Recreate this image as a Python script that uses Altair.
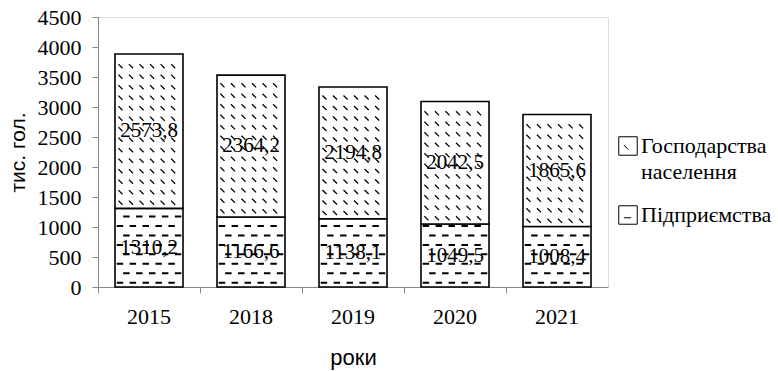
import altair as alt
import pandas as pd

# ---- data ----
years = ["2015", "2018", "2019", "2020", "2021"]
enterprises = [1310.2, 1166.6, 1138.1, 1049.5, 1008.4]      # Підприємства
households = [2573.8, 2364.2, 2194.8, 2042.5, 1865.6]       # Господарства населення
series_names = ["Господарства населення", "Підприємства"]
y_ticks = [0, 500, 1000, 1500, 2000, 2500, 3000, 3500, 4000, 4500]

rows = []
for i, yr in enumerate(years):
    rows.append({"year": yr, "series": series_names[1], "ord": 0, "value": enterprises[i]})
    rows.append({"year": yr, "series": series_names[0], "ord": 1, "value": households[i]})
df = pd.DataFrame(rows)

SERIF = "Liberation Serif"
SANS = "Liberation Sans"

# pattern strokes as custom symbol paths (unit box -1..1, scaled to the bar width)
def dash_row(start):
    parts = []
    x = start
    while x < 0.97:
        x2 = min(x + 0.19, 0.97)
        if x2 - x > 0.04:
            parts.append(f"M{x:.3f},0H{x2:.3f}")
        x += 0.38
    return " ".join(parts)

def diag_row():
    parts = []
    x = -0.9
    while x < 0.85:
        parts.append(f"M{x:.3f},-0.06L{x + 0.12:.3f},0.06")
        x += 0.31
    return " ".join(parts)

DASH_A = dash_row(-0.95)
DASH_B = dash_row(-0.76)
DIAG = diag_row()
ICON_G = "M-1,-1H1V1H-1Z M-0.45,-0.1L0.05,0.4"
ICON_P = "M-1,-1H1V1H-1Z M-0.45,0.3H0.35"

BAR_PX = 68
ROW_SIZE = BAR_PX * BAR_PX

x_enc = alt.X(
    "year:N",
    sort=years,
    scale=alt.Scale(paddingInner=0, paddingOuter=0),
    axis=alt.Axis(
        title="роки", labelAngle=0, bandPosition=0, tickSize=6,
        labelFont=SERIF, labelFontSize=22, labelColor="black", labelPadding=13,
        titleFont=SANS, titleFontSize=22, titleFontWeight="normal",
        titleColor="black", titlePadding=20,
    ),
)
y_scale = alt.Scale(domain=[0, 4500], nice=False)
y_axis = alt.Axis(
    title="тис. гол.", values=y_ticks, format="d", labelOverlap=False,
    grid=False, tickSize=6,
    labelFont=SERIF, labelFontSize=22, labelColor="black", labelPadding=11,
    titleFont=SANS, titleFontSize=21, titleFontWeight="normal",
    titleColor="black", titlePadding=9,
)

def y_enc(field):
    return alt.Y(field, type="quantitative", scale=y_scale, axis=y_axis)

base = alt.Chart(df).transform_stack(
    stack="value", groupby=["year"], as_=["y0", "y1"],
    sort=[alt.SortField("ord", order="ascending")],
)

# legend layer, hidden behind the white bars
legend_layer = base.transform_calculate(mid="(datum.y0 + datum.y1) / 2").mark_point(
    filled=False, color="black", strokeWidth=1, size=340, opacity=1
).encode(
    x=x_enc,
    y=y_enc("mid"),
    shape=alt.Shape(
        "series:N",
        scale=alt.Scale(domain=series_names, range=[ICON_G, ICON_P]),
        legend=alt.Legend(
            title=None, orient="none", legendX=519, legendY=118, padding=0,
            symbolSize=340, symbolStrokeColor="black", symbolStrokeWidth=1,
            symbolOpacity=1,
            labelFont=SERIF, labelFontSize=22, labelColor="black",
            labelExpr="split(datum.label, ' ')", labelOffset=2,
            labelLimit=300, rowPadding=20,
        ),
    ),
)

bars = base.mark_bar(
    width=alt.RelativeBandSize(BAR_PX / 102), fill="white", stroke="black", strokeWidth=1.6
).encode(x=x_enc, y=y_enc("y0"), y2="y1:Q")

diag = base.transform_filter("datum.ord == 1").transform_calculate(
    r="sequence(datum.y0 + 95, datum.y1 - 40, 175)"
).transform_flatten(["r"]).mark_point(
    shape=DIAG, size=ROW_SIZE, filled=False, stroke="black", strokeWidth=1.3, opacity=1
).encode(x=x_enc, y=y_enc("r"))

dash_a = base.transform_filter("datum.ord == 0").transform_calculate(
    r="sequence(datum.y0 + 70, datum.y1 - 30, 316)"
).transform_flatten(["r"]).mark_point(
    shape=DASH_A, size=ROW_SIZE, filled=False, stroke="black", strokeWidth=2, opacity=1
).encode(x=x_enc, y=y_enc("r"))

dash_b = base.transform_filter("datum.ord == 0").transform_calculate(
    r="sequence(datum.y0 + 228, datum.y1 - 30, 316)"
).transform_flatten(["r"]).mark_point(
    shape=DASH_B, size=ROW_SIZE, filled=False, stroke="black", strokeWidth=2, opacity=1
).encode(x=x_enc, y=y_enc("r"))

labels = base.transform_calculate(
    mid="(datum.y0 + datum.y1) / 2",
    lab="replace(format(datum.value, '.1f'), '.', ',')",
).mark_text(
    font=SERIF, fontSize=21, color="black", baseline="middle", align="center"
).encode(x=x_enc, y=y_enc("mid"), text="lab:N")

chart = alt.layer(legend_layer, bars, diag, dash_a, dash_b, labels).properties(
    width=510, height=270,
    autosize=alt.AutoSizeParams(type="none"),
    padding={"left": 98, "top": 17, "right": 170, "bottom": 84},
).configure_view(
    stroke="#888888", strokeWidth=1
).configure_axis(
    domainColor="black", domainWidth=1.5, tickColor="black", tickWidth=1.5
).configure(
    background="white",
    style={"guide-label": {"lineHeight": 26}},
)

chart.save("out.html", embed_options={"renderer": "svg", "actions": False})
